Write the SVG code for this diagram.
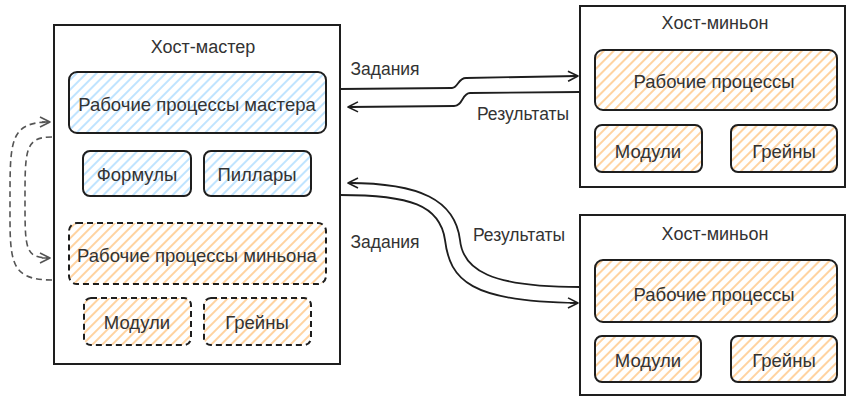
<svg xmlns="http://www.w3.org/2000/svg" width="848" height="397" viewBox="0 0 848 397">
<defs>
<pattern id="hb" patternUnits="userSpaceOnUse" width="7" height="7" patternTransform="rotate(45)"><line x1="1" y1="0" x2="1" y2="7" stroke="#a5d8ff" stroke-width="1.4"/></pattern>
<pattern id="ho" patternUnits="userSpaceOnUse" width="7" height="7" patternTransform="rotate(45)"><line x1="1" y1="0" x2="1" y2="7" stroke="#ffc078" stroke-width="1.4"/></pattern>
<marker id="arr" markerWidth="14" markerHeight="12" refX="11" refY="6" orient="auto" markerUnits="userSpaceOnUse"><path d="M1,1 L11,6 L1,11 M3,6 L11,6" fill="none" stroke="#1e1e1e" stroke-width="1.6" stroke-linejoin="round"/></marker>
<marker id="arrg" markerWidth="14" markerHeight="12" refX="11" refY="6" orient="auto" markerUnits="userSpaceOnUse"><path d="M1,1 L11,6 L1,11 M3,6 L11,6" fill="none" stroke="#555" stroke-width="1.6" stroke-linejoin="round"/></marker>
</defs>
<style>
.host{fill:#fff;stroke:#1e1e1e;stroke-width:2}
.b{stroke:#1e1e1e;stroke-width:2;fill:url(#hb)}
.o{stroke:#1e1e1e;stroke-width:2;fill:url(#ho)}
.d{stroke-dasharray:6 4}
text{font-family:"Liberation Sans",Arial,sans-serif;fill:#333;text-anchor:middle;dominant-baseline:central}
.t{font-size:18px}
.n{font-size:18.5px}
.l{font-size:17.5px}
.c{fill:none;stroke:#1e1e1e;stroke-width:1.8}
.g{fill:none;stroke:#555;stroke-width:1.6;stroke-dasharray:6 4}
</style>
<g id="master">
<rect class="host" x="54" y="25" width="286" height="339"/>
<text class="t" x="203" y="47">Хост-мастер</text>
</g>
<g id="master-workers"><rect class="b" x="69" y="72" width="257" height="61" rx="8"/><text class="n" x="197" y="104">Рабочие процессы мастера</text></g>
<g id="formulas"><rect class="b" x="83" y="151" width="108" height="45" rx="7"/><text class="n" x="137" y="174">Формулы</text></g>
<g id="pillars"><rect class="b" x="204" y="151" width="107" height="45" rx="7"/><text class="n" x="257" y="174">Пиллары</text></g>
<g id="minion-workers-local"><rect class="o d" x="69" y="223" width="257" height="61" rx="8"/><text class="n" x="197" y="255">Рабочие процессы миньона</text></g>
<g id="modules-local"><rect class="o d" x="84" y="298" width="107" height="47" rx="7"/><text class="n" x="137" y="322">Модули</text></g>
<g id="grains-local"><rect class="o d" x="204" y="298" width="107" height="47" rx="7"/><text class="n" x="257" y="322">Грейны</text></g>

<g id="minion1">
<rect class="host" x="580" y="6" width="265" height="181"/>
<text class="t" x="715" y="23">Хост-миньон</text>
</g>
<g id="m1-workers"><rect class="o" x="595" y="50" width="242" height="60" rx="8"/><text class="n" x="714" y="81">Рабочие процессы</text></g>
<g id="m1-modules"><rect class="o" x="595" y="125" width="107" height="47" rx="7"/><text class="n" x="648" y="151">Модули</text></g>
<g id="m1-grains"><rect class="o" x="731" y="125" width="106" height="47" rx="7"/><text class="n" x="784" y="151">Грейны</text></g>

<g id="minion2">
<rect class="host" x="580" y="215" width="265" height="180"/>
<text class="t" x="715" y="234">Хост-миньон</text>
</g>
<g id="m2-workers"><rect class="o" x="595" y="260" width="242" height="62" rx="8"/><text class="n" x="714" y="294">Рабочие процессы</text></g>
<g id="m2-modules"><rect class="o" x="595" y="336" width="106" height="46" rx="7"/><text class="n" x="648" y="360">Модули</text></g>
<g id="m2-grains"><rect class="o" x="731" y="336" width="106" height="46" rx="7"/><text class="n" x="784" y="360">Грейны</text></g>

<g id="connectors">
<path class="c" d="M340,89 L452,88 C458,88 458,78 466,78 L578,76" marker-end="url(#arr)"/>
<path class="c" d="M580,92 L470,93 C462,93 463,106 454,106 L348,107" marker-end="url(#arr)"/>
<path class="c" d="M340,195 C410,195 440,205 445,240 C450,280 470,302 578,303" marker-end="url(#arr)"/>
<path class="c" d="M580,287 C490,287 463,270 460,240 C455,200 420,183 348,183" marker-end="url(#arr)"/>
<path class="g" d="M52,280 C8,280 10,260 10,200 C10,140 10,122 50,122" marker-end="url(#arrg)"/>
<path class="g" d="M52,137 C25,137 25,150 25,200 C25,250 25,258 50,258" marker-end="url(#arrg)"/>
<text class="l" x="385" y="69">Задания</text>
<text class="l" x="523" y="114">Результаты</text>
<text class="l" x="385" y="242">Задания</text>
<text class="l" x="519" y="235">Результаты</text>
</g>
</svg>
